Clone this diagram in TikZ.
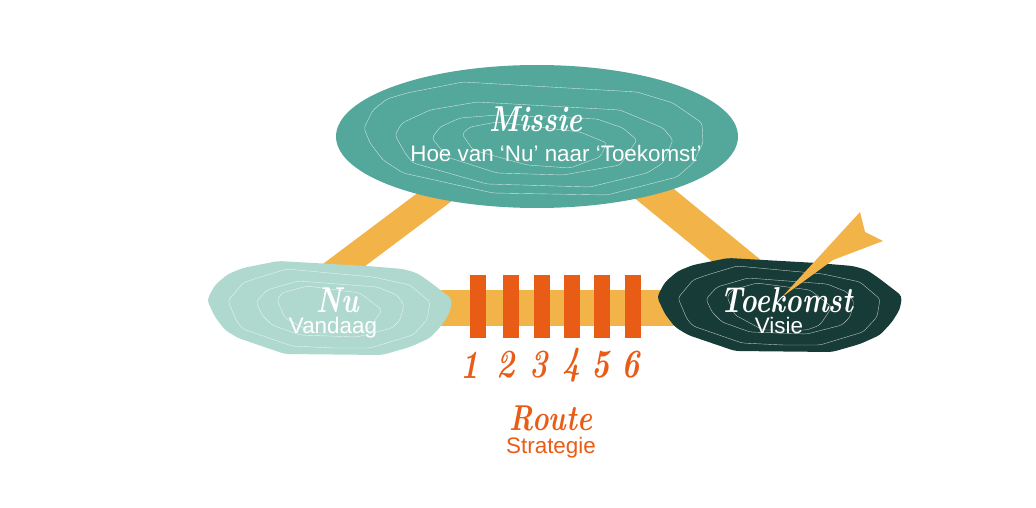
\documentclass[tikz,border=0pt]{standalone}
\usepackage{fontspec}
\setsansfont{Liberation Sans}
\newfontfamily\schrift[FakeStretch=0.78]{Latin Modern Roman}
\definecolor{bandkleur}{HTML}{F2B349}
\definecolor{missiekleur}{HTML}{54A79B}
\definecolor{nukleur}{HTML}{AFD9CE}
\definecolor{toekomstkleur}{HTML}{173B36}
\definecolor{routekleur}{HTML}{E95C16}
\tikzset{
    band/.style={draw=bandkleur},
    hoogte/.style={draw=white,line width=0.4pt,opacity=0.7,rounded corners=3pt},
    titel/.style={font=\schrift\itshape\bfseries\fontsize{36}{36}\selectfont,inner sep=0pt},
    onder/.style={font=\sffamily\fontsize{22.4}{22.4}\selectfont,inner sep=0pt},
    cijfer/.style={font=\schrift\itshape\bfseries\fontsize{40}{40}\selectfont,text=routekleur,inner sep=0pt},
    eiland/.pic={
        \path[pic actions,rounded corners=4pt] (207,300) -- (215,285) -- (228,274) -- (243,268) -- (278,261) -- (367,266) -- (403,269) -- (417,273) -- (430,282) -- (452,299) -- (450,312) -- (442,325) -- (430,338) -- (410,347) -- (382,355) -- (285,354) -- (238,338) -- (225,330) -- (215,317) -- cycle;
        \draw[hoogte] (228,301) -- (243,283) -- (257,278) -- (287,269) -- (373,277) -- (410,285) -- (430,302) -- (427,320) -- (413,335) -- (370,348) -- (333,348) -- (292,346) -- (243,329) -- (237,322) -- cycle;
        \draw[hoogte] (256,302) -- (267,290) -- (298,281) -- (377,287) -- (397,295) -- (404,305) -- (400,320) -- (392,328) -- (357,337) -- (300,335) -- (272,325) -- (262,315) -- cycle;
        \draw[hoogte] (277,300) -- (282,293) -- (307,286) -- (360,293) -- (382,310) -- (370,328) -- (357,333) -- (313,333) -- (285,318) -- cycle;
    },
}
\begin{document}
\begin{tikzpicture}[x=1pt,y=-1pt]
    \useasboundingbox (0,0) rectangle (1036,508);
    %% bands
    \coordinate (nuboven) at (320,283);
    \coordinate (missielinks) at (460,178);
    \coordinate (missierechts) at (645,186);
    \coordinate (toekomstboven) at (760,280);
    \coordinate (nurechts) at (440,308);
    \coordinate (toekomstlinks) at (680,308);
    \draw[band,line width=27pt] (nuboven) -- (missielinks);
    \draw[band,line width=32pt] (missierechts) -- (toekomstboven);
    \draw[band,line width=36pt] (nurechts) -- (toekomstlinks);
    %% missie
    \fill[missiekleur] (537,136.5) ellipse [x radius=201, y radius=71.5];
    \draw[hoogte] (364,128) -- (373,110) -- (387,99) -- (407,93) -- (463,82) -- (637,92) -- (673,103) -- (702,123) -- (703,143) -- (693,163) -- (677,177) -- (607,195) -- (493,193) -- (403,173) -- (383,160) -- (370,143) -- cycle;
    \draw[hoogte] (395,135) -- (402,123) -- (430,110) -- (477,102) -- (620,110) -- (663,128) -- (673,140) -- (663,163) -- (647,173) -- (590,187) -- (487,184) -- (413,163) -- (405,153) -- cycle;
    \draw[hoogte] (432,138) -- (440,127) -- (460,118) -- (497,115) -- (597,119) -- (623,128) -- (637,140) -- (620,165) -- (563,175) -- (497,173) -- (447,157) -- cycle;
    \draw[hoogte] (462,134) -- (470,127) -- (497,122) -- (580,132) -- (607,143) -- (600,157) -- (570,168) -- (527,165) -- (473,150) -- cycle;
    %% nu en toekomst
    \pic[fill=nukleur] at (0,0) {eiland};
    \pic[fill=toekomstkleur] at (450,-3) {eiland};
    %% pijl
    \fill[bandkleur] (782,297) -- (860,212) -- (865,232) -- (883,241) -- (833,260) -- cycle;
    %% route
    \foreach \x/\n/\c in {470/1/470,503/2/506,534/3/539,564/4/572,594/5/601,625/6/631} {
        \fill[routekleur] (\x,275) rectangle ++(16,63);
        \node[cijfer] (cijfer\n) at (\c,365) {\n};
    }
    %% labels
    \node[titel,text=white] (missie) at (536,119) {Missie};
    \node[onder,text=white] (hoe) at (556,153) {Hoe van ‘Nu’ naar ‘Toekomst’};
    \node[titel,text=white] (nu) at (338,300) {Nu};
    \node[onder,text=white] (vandaag) at (333,328) {Vandaag};
    \node[titel,text=white] (toekomst) at (787,300) {Toekomst};
    \node[onder,text=white] (visie) at (779,325) {Visie};
    \node[titel,text=routekleur] (route) at (551,418) {Route};
    \node[onder,text=routekleur] (strategie) at (551,448) {Strategie};
\end{tikzpicture}
\end{document}
